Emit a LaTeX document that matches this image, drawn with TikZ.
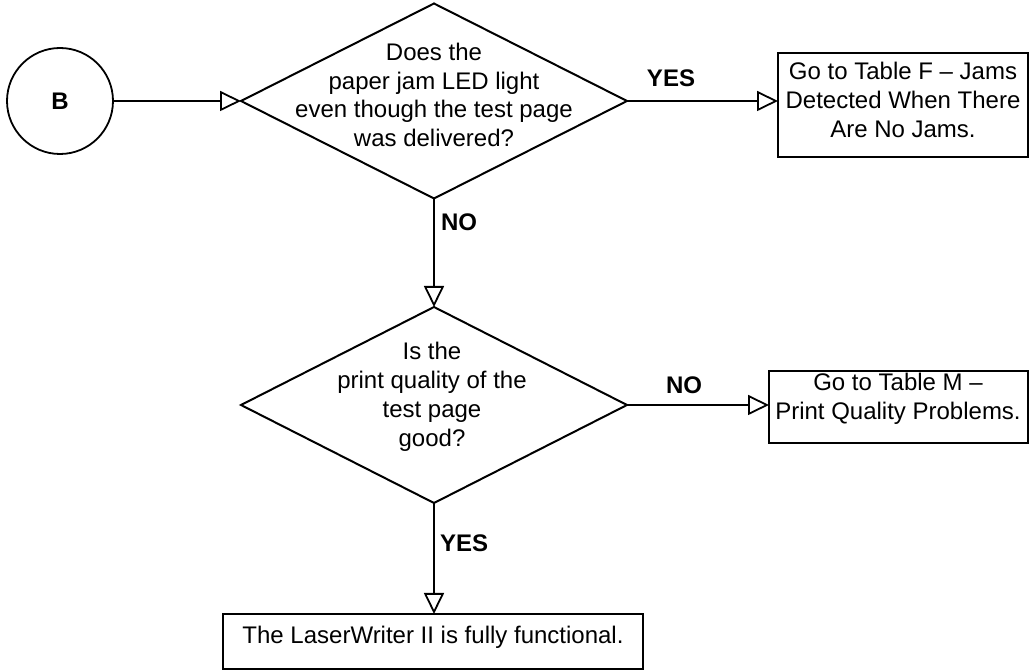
\documentclass[tikz,border=0pt]{standalone}
\usepackage{fontspec}
\setmainfont{Liberation Sans}
\usetikzlibrary{shapes.geometric,arrows.meta}
\begin{document}
\begin{tikzpicture}[x=0.5pt,y=-0.5pt,
  every node/.style={font=\fontsize{12}{14.4}\selectfont, inner sep=0pt, outer sep=0pt},
  dec/.style={draw, diamond, line width=1pt, minimum width=193pt, minimum height=97.5pt},
  box/.style={draw, rectangle, line width=0.9pt},
  txt/.style={align=center},
  lbl/.style={font=\fontsize{12}{14.4}\selectfont\bfseries},
  flow/.style={line width=0.9pt, -{Triangle[open,length=10.5pt,width=10pt,line width=0.9pt]}}
]
\useasboundingbox (0,0) rectangle (1030,672);
% start connector
\node[draw, circle, line width=0.9pt, minimum size=53pt, font=\fontsize{12}{14.4}\selectfont\bfseries] (B) at (60,101) {B};
% first decision
\node[dec] (d1) at (434,101) {};
\node[txt] (d1t) at (434,95) {Does the\\paper jam LED light\\even though the test page\\was delivered?};
% table F box
\node[box, minimum width=125pt, minimum height=52pt] (f) at (903,105) {};
\node[txt] (ft) at (903,100) {Go to Table F – Jams\\Detected When There\\Are No Jams.};
% second decision
\node[dec, minimum height=98pt] (d2) at (434,405) {};
\node[txt] (d2t) at (432,397) {Is the\\print quality of the\\test page\\good?};
% table M box
\node[box, minimum width=129.5pt, minimum height=36pt] (m) at (898.5,407) {};
\node[txt] (mt) at (898,398.5) {Go to Table M –\\Print Quality Problems.};
% final box
\node[box, minimum width=210pt, minimum height=27.5pt] (ok) at (433,641.5) {};
\node[txt] (okt) at (433,637) {The LaserWriter II is fully functional.};
% labels
\node[lbl] (y1) at (671,78) {YES};
\node[lbl, anchor=west] (n1) at (441,222) {NO};
\node[lbl] (n2) at (684,385) {NO};
\node[lbl, anchor=west] (y2) at (440,543) {YES};
% connectors
\draw[flow] (B.east) -- (d1.west);
\draw[flow] (d1.east) -- (d1.east -| f.west);
\draw[flow] (d1.south) -- (d2.north);
\draw[flow] (d2.east) -- (d2.east -| m.west);
\draw[flow] (d2.south) -- (d2.south |- ok.north);
\end{tikzpicture}
\end{document}
